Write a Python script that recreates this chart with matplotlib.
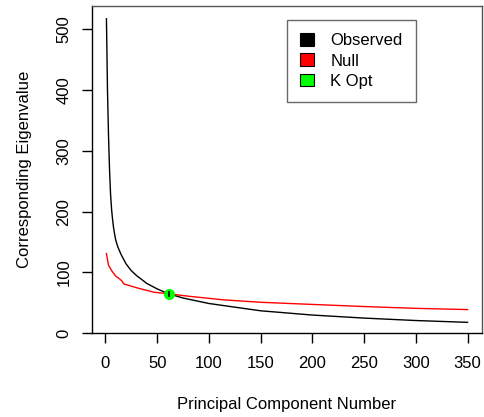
import matplotlib
matplotlib.use("Agg")
import matplotlib.pyplot as plt
from matplotlib.patches import Patch

plt.rcParams["font.family"] = ["Liberation Sans", "DejaVu Sans"]

# observed eigenvalues
pc_obs = [1, 2, 3, 4, 5, 6, 7, 8, 9, 10, 12, 15, 20, 25, 30, 40, 50, 61, 75,
          100, 125, 150, 200, 250, 300, 350]
eig_obs = [517, 400, 325, 268, 228, 203, 186, 172, 162, 153, 142, 130, 114,
           103, 95, 82, 73, 65, 58, 49, 43, 37, 30, 25, 21, 18]

# null eigenvalues
pc_null = [1, 3, 6, 10, 14, 16, 17, 18, 22, 32, 47, 61, 80, 114, 150, 178,
           250, 300, 350]
eig_null = [131, 112, 103, 94, 89, 86, 83, 81, 79, 74, 67.5, 65, 61, 55,
            51, 49, 44, 41, 39]

k_opt = 61
k_opt_val = 65

legend_labels = ["Observed", "Null", "K Opt"]
legend_colors = ["black", "red", "#00ff00"]

fig = plt.figure(figsize=(4.84, 4.17), dpi=100)
ax = fig.add_axes([92 / 484, 1 - 333.3 / 417, 390 / 484, 327.3 / 417])

ax.plot(pc_obs, eig_obs, color="black", lw=1.0)
ax.plot(pc_null, eig_null, color="red", lw=1.0)
ax.plot([k_opt], [k_opt_val], "o", color="#00ff00", ms=8, mew=0, zorder=5)
ax.plot([k_opt], [k_opt_val], "|", color="black", ms=4, mew=1.2, zorder=6)

ax.set_xlim(-12.96, 363.96)
ax.set_ylim(0, 538)
ax.set_xticks(range(0, 351, 50))
ax.set_yticks(range(0, 501, 100))

for s in ax.spines.values():
    s.set_linewidth(1.0)
    s.set_color("#555555")
ax.spines["left"].set_color("black")
ax.spines["bottom"].set_color("black")

ax.tick_params(axis="both", direction="out", length=7.2, width=1.0,
               labelsize=12, colors="black")
ax.tick_params(axis="x", pad=9.5)
ax.tick_params(axis="y", pad=7.5, labelrotation=90)
for lab in ax.get_yticklabels():
    lab.set_va("center")

ax.set_xlabel("Principal Component Number", fontsize=12)
ax.set_ylabel("Corresponding Eigenvalue", fontsize=12)
ax.xaxis.set_label_coords(0.5, -0.195)
ax.yaxis.set_label_coords(-0.154, 0.5)

handles = [Patch(facecolor=c, edgecolor="black", lw=0.8) for c in legend_colors]
leg = ax.legend(handles, legend_labels, loc="upper left",
                bbox_to_anchor=((287 - 92) / 390, 1 - (20 - 6) / 327.3),
                fontsize=12, frameon=True, fancybox=False, borderpad=0.8,
                handlelength=0.8, handleheight=0.8, handletextpad=1.0,
                labelspacing=0.3, borderaxespad=0)
leg.get_frame().set_edgecolor("#444444")
leg.get_frame().set_linewidth(1.0)

fig.savefig("out.png", dpi=100)
